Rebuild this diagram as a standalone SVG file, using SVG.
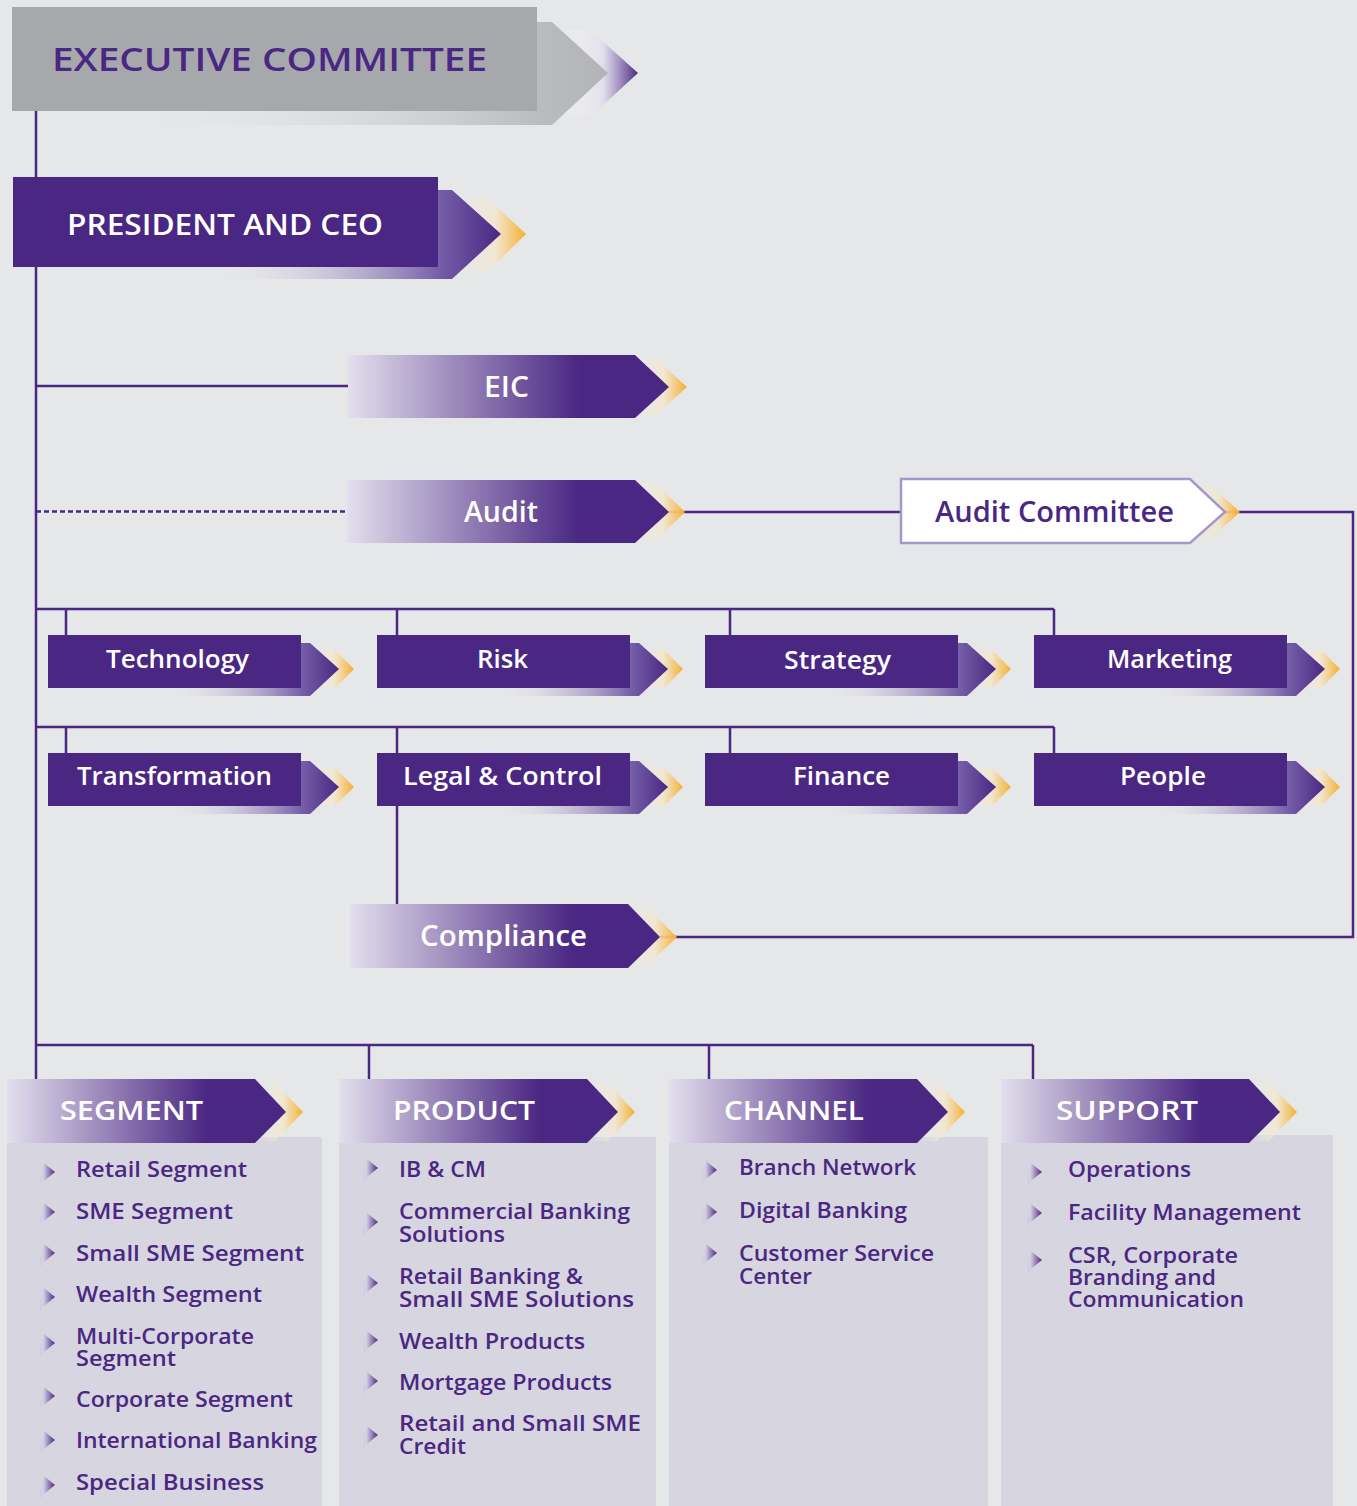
<svg xmlns="http://www.w3.org/2000/svg" xmlns:xlink="http://www.w3.org/1999/xlink" width="1357" height="1506" viewBox="0 0 1357 1506">
  <style>
    .t { font-family: "Open Sans", "Liberation Sans", sans-serif; font-weight: 600; }
    .w { fill: #ffffff; }
    .p { fill: #4a2783; }
    .li { font-family: "Open Sans", "Liberation Sans", sans-serif; font-weight: 600; font-size: 22px; fill: #4a2783; }
    .hd { font-size: 27px; fill: #ffffff; }
    .dept { font-size: 25px; fill: #ffffff; }
    .panel { fill: #d7d6e0; }
  </style>
  <defs>
    <linearGradient id="gExecShadow" x1="0" y1="0" x2="1" y2="0">
      <stop offset="0" stop-color="#e6e7e9" stop-opacity="0"/>
      <stop offset="0.2" stop-color="#e6e7e9" stop-opacity="0"/>
      <stop offset="0.9" stop-color="#b9babd"/>
      <stop offset="1" stop-color="#b3b4b7"/>
    </linearGradient>
    <linearGradient id="gExecChev" x1="0" y1="0" x2="1" y2="0">
      <stop offset="0" stop-color="#ffffff" stop-opacity="0"/>
      <stop offset="0.55" stop-color="#e1dcec" stop-opacity="0.8"/>
      <stop offset="1" stop-color="#4a2783"/>
    </linearGradient>
    <linearGradient id="gShadow" x1="0" y1="0" x2="1" y2="0">
      <stop offset="0" stop-color="#e6e7e9" stop-opacity="0"/>
      <stop offset="0.42" stop-color="#e6e7e9" stop-opacity="0"/>
      <stop offset="0.87" stop-color="#7660a9"/>
      <stop offset="1" stop-color="#4a2783"/>
    </linearGradient>
    <linearGradient id="gFade" x1="0" y1="0" x2="1" y2="0">
      <stop offset="0" stop-color="#e3dfed"/>
      <stop offset="0.72" stop-color="#4a2783"/>
      <stop offset="1" stop-color="#4a2783"/>
    </linearGradient>
    <linearGradient id="gGold" x1="0" y1="0" x2="1" y2="0">
      <stop offset="0" stop-color="#f3ede2" stop-opacity="0"/>
      <stop offset="0.55" stop-color="#f3e6cc" stop-opacity="0.85"/>
      <stop offset="1" stop-color="#f6ae2a"/>
    </linearGradient>
    <linearGradient id="gBullet" x1="0" y1="0" x2="1" y2="0">
      <stop offset="0" stop-color="#cfc8e0"/>
      <stop offset="1" stop-color="#4a2783"/>
    </linearGradient>

    <!-- department box: gold chevron, purple drop arrow, solid bar -->
    <g id="deptShape">
      <polygon points="262,15 287,15 306,34 287,53 262,53" fill="url(#gGold)"/>
      <polygon points="0,8 262,8 291,34 262,61 0,61" fill="url(#gShadow)"/>
      <rect x="0" y="0" width="253" height="53" fill="#4a2783"/>
    </g>

    <!-- column header arrow -->
    <g id="headShape">
      <polygon points="252,4 268,4 296,33 268,62 252,62" fill="url(#gGold)"/>
      <polygon points="0,0 248,0 279,33 248,64 0,64" fill="url(#gFade)"/>
    </g>

    <!-- list bullet -->
    <g id="bullet">
      <polygon points="-10,5 -6,-9 -6,9 -10,15" fill="#cfc8e0" opacity="0.45"/>
      <polygon points="-6,-9 5,0 -6,9" fill="url(#gBullet)"/>
    </g>
  </defs>

  <rect x="0" y="0" width="1357" height="1506" fill="#e6e7e9"/>

  <!-- connectors -->
  <g id="connectors" fill="none" stroke="#4a2783" stroke-width="2.5">
    <path d="M36,111 V1079"/>
    <path d="M36,386 H348"/>
    <path d="M36,511.5 H347" stroke-dasharray="5 3"/>
    <path d="M36,609 H1054 M66,609 V635 M397,609 V635 M730,609 V635 M1054,609 V635"/>
    <path d="M36,727 H1054 M66,727 V753 M397,727 V753 M730,727 V753 M1054,727 V754"/>
    <path d="M397,806 V904"/>
    <path d="M36,1045 H1033 M369,1045 V1079 M709,1045 V1079 M1033,1045 V1079"/>
    <path d="M669,512 H901"/>
    <path d="M1225,512 H1353 V937 H660"/>
  </g>

  <!-- top of the hierarchy -->
  <g id="executive-committee">
    <polygon points="560,30 590,30 638,73 590,117 560,117" fill="url(#gExecChev)"/>
    <polygon points="12,22 552,22 608,73 552,125 12,125" fill="url(#gExecShadow)"/>
    <rect x="12" y="7" width="525" height="104" fill="#a7a8ab"/>
    <text class="t p" x="52" y="71" font-size="33" textLength="435" lengthAdjust="spacingAndGlyphs">EXECUTIVE COMMITTEE</text>
  </g>

  <g id="president-ceo">
    <polygon points="458,197 486,197 526,234 486,273 458,273" fill="url(#gGold)"/>
    <polygon points="13,190 452,190 501,234 452,279 13,279" fill="url(#gShadow)"/>
    <rect x="13" y="177" width="425" height="90" fill="#4a2783"/>
    <text class="t w" x="67" y="235" font-size="28" textLength="316" lengthAdjust="spacingAndGlyphs">PRESIDENT AND CEO</text>
  </g>

  <g id="eic">
    <polygon points="636,358 655,358 687,387 655,416 636,416" fill="url(#gGold)"/>
    <polygon points="348,355 635,355 669,387 635,418 348,418" fill="url(#gFade)"/>
    <text class="t w" x="484" y="397" font-size="28" textLength="45" lengthAdjust="spacingAndGlyphs">EIC</text>
  </g>

  <g id="audit">
    <polygon points="636,483 655,483 685,512 655,541 636,541" fill="url(#gGold)"/>
    <polygon points="347,480 635,480 669,512 635,543 347,543" fill="url(#gFade)"/>
    <text class="t w" x="464" y="522" font-size="28" textLength="74" lengthAdjust="spacingAndGlyphs">Audit</text>
  </g>

  <g id="audit-committee">
    <polygon points="1192,483 1208,483 1240,512 1208,541 1192,541" fill="url(#gGold)"/>
    <polygon points="901,479 1190,479 1225,512 1190,543 901,543" fill="#ffffff" stroke="#a597c9" stroke-width="2.5"/>
    <text class="t p" x="935" y="522" font-size="28" textLength="239" lengthAdjust="spacingAndGlyphs">Audit Committee</text>
  </g>

  <!-- functions -->
  <g id="technology">
    <use xlink:href="#deptShape" href="#deptShape" x="48" y="635"/>
    <text class="t dept" x="106" y="668" textLength="143" lengthAdjust="spacingAndGlyphs">Technology</text>
  </g>
  <g id="risk">
    <use xlink:href="#deptShape" href="#deptShape" x="377" y="635"/>
    <text class="t dept" x="477" y="668" textLength="51" lengthAdjust="spacingAndGlyphs">Risk</text>
  </g>
  <g id="strategy">
    <use xlink:href="#deptShape" href="#deptShape" x="705" y="635"/>
    <text class="t dept" x="784" y="669" textLength="107" lengthAdjust="spacingAndGlyphs">Strategy</text>
  </g>
  <g id="marketing">
    <use xlink:href="#deptShape" href="#deptShape" x="1034" y="635"/>
    <text class="t dept" x="1107" y="668" textLength="125" lengthAdjust="spacingAndGlyphs">Marketing</text>
  </g>
  <g id="transformation">
    <use xlink:href="#deptShape" href="#deptShape" x="48" y="753"/>
    <text class="t dept" x="77" y="785" textLength="195" lengthAdjust="spacingAndGlyphs">Transformation</text>
  </g>
  <g id="legal-control">
    <use xlink:href="#deptShape" href="#deptShape" x="377" y="753"/>
    <text class="t dept" x="403" y="785" textLength="199" lengthAdjust="spacingAndGlyphs">Legal &amp; Control</text>
  </g>
  <g id="finance">
    <use xlink:href="#deptShape" href="#deptShape" x="705" y="753"/>
    <text class="t dept" x="793" y="785" textLength="97" lengthAdjust="spacingAndGlyphs">Finance</text>
  </g>
  <g id="people">
    <use xlink:href="#deptShape" href="#deptShape" x="1034" y="753"/>
    <text class="t dept" x="1120" y="785" textLength="86" lengthAdjust="spacingAndGlyphs">People</text>
  </g>

  <g id="compliance">
    <polygon points="628,908 647,908 677,937 647,966 628,966" fill="url(#gGold)"/>
    <polygon points="350,904 628,904 660,937 628,968 350,968" fill="url(#gFade)"/>
    <text class="t w" x="420" y="946" font-size="28" textLength="167" lengthAdjust="spacingAndGlyphs">Compliance</text>
  </g>

  <!-- business columns -->
  <g id="segment">
    <rect class="panel" x="7" y="1137" width="315" height="369"/>
    <use xlink:href="#headShape" href="#headShape" x="7" y="1079"/>
    <text class="t hd" x="60" y="1120" textLength="143" lengthAdjust="spacingAndGlyphs">SEGMENT</text>
    <use xlink:href="#bullet" href="#bullet" x="50" y="1172"/>
    <use xlink:href="#bullet" href="#bullet" x="50" y="1212"/>
    <use xlink:href="#bullet" href="#bullet" x="50" y="1253"/>
    <use xlink:href="#bullet" href="#bullet" x="50" y="1297"/>
    <use xlink:href="#bullet" href="#bullet" x="50" y="1343"/>
    <use xlink:href="#bullet" href="#bullet" x="50" y="1396"/>
    <use xlink:href="#bullet" href="#bullet" x="50" y="1440"/>
    <use xlink:href="#bullet" href="#bullet" x="50" y="1485"/>
    <text class="li" x="76" y="1177" textLength="171" lengthAdjust="spacingAndGlyphs">Retail Segment</text>
    <text class="li" x="76" y="1219" textLength="157" lengthAdjust="spacingAndGlyphs">SME Segment</text>
    <text class="li" x="76" y="1261" textLength="228" lengthAdjust="spacingAndGlyphs">Small SME Segment</text>
    <text class="li" x="76" y="1302" textLength="186" lengthAdjust="spacingAndGlyphs">Wealth Segment</text>
    <text class="li" x="76" y="1344" textLength="178" lengthAdjust="spacingAndGlyphs">Multi-Corporate</text>
    <text class="li" x="76" y="1366" textLength="100" lengthAdjust="spacingAndGlyphs">Segment</text>
    <text class="li" x="76" y="1407" textLength="217" lengthAdjust="spacingAndGlyphs">Corporate Segment</text>
    <text class="li" x="76" y="1448" textLength="241" lengthAdjust="spacingAndGlyphs">International Banking</text>
    <text class="li" x="76" y="1490" textLength="188" lengthAdjust="spacingAndGlyphs">Special Business</text>
  </g>

  <g id="product">
    <rect class="panel" x="339" y="1137" width="317" height="369"/>
    <use xlink:href="#headShape" href="#headShape" x="339" y="1079"/>
    <text class="t hd" x="393" y="1120" textLength="142" lengthAdjust="spacingAndGlyphs">PRODUCT</text>
    <use xlink:href="#bullet" href="#bullet" x="373" y="1168"/>
    <use xlink:href="#bullet" href="#bullet" x="373" y="1222"/>
    <use xlink:href="#bullet" href="#bullet" x="373" y="1283"/>
    <use xlink:href="#bullet" href="#bullet" x="373" y="1340"/>
    <use xlink:href="#bullet" href="#bullet" x="373" y="1381"/>
    <use xlink:href="#bullet" href="#bullet" x="373" y="1435"/>
    <text class="li" x="399" y="1177" textLength="87" lengthAdjust="spacingAndGlyphs">IB &amp; CM</text>
    <text class="li" x="399" y="1219" textLength="231" lengthAdjust="spacingAndGlyphs">Commercial Banking</text>
    <text class="li" x="399" y="1242" textLength="106" lengthAdjust="spacingAndGlyphs">Solutions</text>
    <text class="li" x="399" y="1284" textLength="184" lengthAdjust="spacingAndGlyphs">Retail Banking &amp;</text>
    <text class="li" x="399" y="1307" textLength="235" lengthAdjust="spacingAndGlyphs">Small SME Solutions</text>
    <text class="li" x="399" y="1349" textLength="186" lengthAdjust="spacingAndGlyphs">Wealth Products</text>
    <text class="li" x="399" y="1390" textLength="213" lengthAdjust="spacingAndGlyphs">Mortgage Products</text>
    <text class="li" x="399" y="1431" textLength="242" lengthAdjust="spacingAndGlyphs">Retail and Small SME</text>
    <text class="li" x="399" y="1454" textLength="67" lengthAdjust="spacingAndGlyphs">Credit</text>
  </g>

  <g id="channel">
    <rect class="panel" x="669" y="1137" width="319" height="369"/>
    <use xlink:href="#headShape" href="#headShape" x="669" y="1079"/>
    <text class="t hd" x="724" y="1120" textLength="140" lengthAdjust="spacingAndGlyphs">CHANNEL</text>
    <use xlink:href="#bullet" href="#bullet" x="712" y="1170"/>
    <use xlink:href="#bullet" href="#bullet" x="712" y="1212"/>
    <use xlink:href="#bullet" href="#bullet" x="712" y="1253"/>
    <text class="li" x="739" y="1175" textLength="177" lengthAdjust="spacingAndGlyphs">Branch Network</text>
    <text class="li" x="739" y="1218" textLength="168" lengthAdjust="spacingAndGlyphs">Digital Banking</text>
    <text class="li" x="739" y="1261" textLength="195" lengthAdjust="spacingAndGlyphs">Customer Service</text>
    <text class="li" x="739" y="1284" textLength="73" lengthAdjust="spacingAndGlyphs">Center</text>
  </g>

  <g id="support">
    <rect class="panel" x="1001" y="1135" width="332" height="371"/>
    <use xlink:href="#headShape" href="#headShape" x="1001" y="1079"/>
    <text class="t hd" x="1056" y="1120" textLength="142" lengthAdjust="spacingAndGlyphs">SUPPORT</text>
    <use xlink:href="#bullet" href="#bullet" x="1037" y="1172"/>
    <use xlink:href="#bullet" href="#bullet" x="1037" y="1213"/>
    <use xlink:href="#bullet" href="#bullet" x="1037" y="1260"/>
    <text class="li" x="1068" y="1177" textLength="123" lengthAdjust="spacingAndGlyphs">Operations</text>
    <text class="li" x="1068" y="1220" textLength="233" lengthAdjust="spacingAndGlyphs">Facility Management</text>
    <text class="li" x="1068" y="1263" textLength="170" lengthAdjust="spacingAndGlyphs">CSR, Corporate</text>
    <text class="li" x="1068" y="1285" textLength="148" lengthAdjust="spacingAndGlyphs">Branding and</text>
    <text class="li" x="1068" y="1307" textLength="176" lengthAdjust="spacingAndGlyphs">Communication</text>
  </g>
</svg>
